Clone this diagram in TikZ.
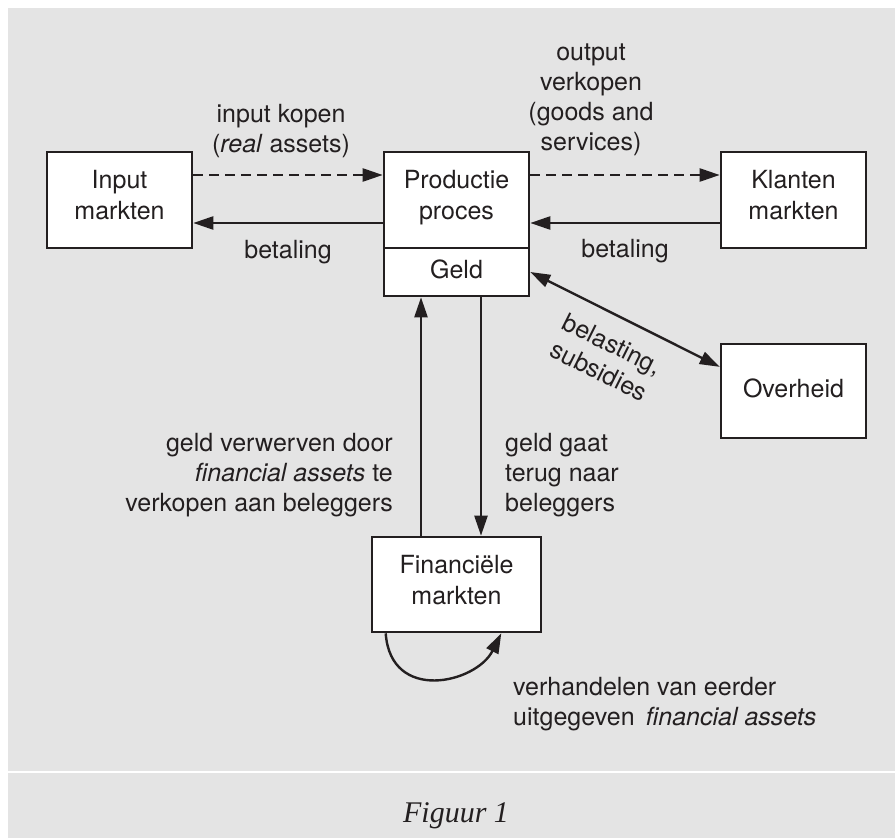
\documentclass[tikz,border=0pt]{standalone}
\usepackage{fontspec}
\setmainfont{TeX Gyre Heros}
\newfontfamily\capfont{Liberation Serif}
\usetikzlibrary{arrows.meta,calc}
\definecolor{ink}{HTML}{231F20}
\definecolor{panel}{HTML}{E4E4E4}
\newcommand\lblfont{\fontsize{25}{30}\selectfont}
\newcommand\boxfont{\fontsize{25}{31}\selectfont}

\begin{document}
\begin{tikzpicture}[x=1pt,y=-1pt,
  box/.style={draw=ink, fill=white, line width=2.6pt, inner sep=0pt,
    minimum width=145pt, minimum height=96pt, align=center,
    font=\boxfont, text=ink,
    execute at begin node=\strut, execute at end node=\strut},
  lbl/.style={font=\lblfont, text=ink, inner sep=0pt,
    execute at begin node=\strut, execute at end node=\strut},
  conn/.style={draw=ink, line width=2.4pt,
    -{Triangle[length=20pt,width=13pt]}},
  both/.style={draw=ink, line width=2.4pt,
    {Triangle[length=20pt,width=13pt]}-{Triangle[length=20pt,width=13pt]}},
  dsh/.style={dash pattern=on 10pt off 6pt}]

  % page, panel and caption rule
  \useasboundingbox (0,0) rectangle (895,838);
  \fill[white] (0,0) rectangle (895,838);
  \fill[panel] (8,8) rectangle (895,838);
  \draw[white, line width=1.6pt] (8,772) -- (895,772);

  % boxes
  \node[box] (inp) at (119.5,200) {Input\\markten};
  \node[box] (prod) at (456.5,200) {Productie\\proces};
  \node[box, minimum height=48pt] (geld) at (456.5,272) {Geld};
  \node[box] (kl) at (793.5,200) {Klanten\\markten};
  \node[box, minimum height=94pt] (ovh) at (793.5,391) {Overheid};
  \node[box, minimum width=169pt, minimum height=95pt] (fin) at (456.5,584.5) {Financiële\\markten};

  % flows between markets and production
  \draw[conn, dsh] ([yshift=25pt]inp.east) -- ([yshift=25pt]prod.west);
  \draw[conn] ([yshift=-23pt]prod.west) -- ([yshift=-23pt]inp.east);
  \draw[conn, dsh] ([yshift=25pt]prod.east) -- ([yshift=25pt]kl.west);
  \draw[conn] ([yshift=-23pt]kl.west) -- ([yshift=-23pt]prod.east);

  % money to and from the financial markets
  \draw[conn] ([xshift=-35.5pt]fin.north) -- ([xshift=-35.5pt]geld.south);
  \draw[conn] ([xshift=24.5pt]geld.south) -- ([xshift=24.5pt]fin.north);

  % government
  \coordinate (ovhin) at ($(ovh.north west)!0.25!(ovh.south west)$);
  \draw[both] (geld.east) -- node[lbl, pos=0.5, sloped, anchor=north,
    inner ysep=17pt, align=center] (tbel) {belasting,\\subsidies} (ovhin);

  % secondary market loop
  \coordinate (lpA) at ([xshift=15pt]fin.south west);
  \coordinate (lpB) at ([xshift=-41pt]fin.south east);
  \draw[conn] (lpA) .. controls +(5,70) and +(-25,50) .. (lpB);

  % labels
  \node[lbl, anchor=north, align=center] (tin) at (281,104) {input kopen\\(\textit{real} assets)};
  \node[lbl, anchor=north, align=center] (tout) at (591,44) {output\\verkopen\\(goods and\\services)};
  \node[lbl, anchor=north] (tbl) at (288,237) {betaling};
  \node[lbl, anchor=north] (tbr) at (625,236) {betaling};
  \node[lbl, anchor=north east, align=right] (tgv) at (393,433)
    {geld verwerven door\\\textit{financial assets} te\\verkopen aan beleggers};
  \node[lbl, anchor=north west, align=left] (tgg) at (505,433)
    {geld gaat\\terug naar\\beleggers};
  \node[lbl, anchor=north west, align=left] (tvh) at (513,677)
    {verhandelen van eerder\\uitgegeven\hspace{0.45em}\textit{financial assets}};

  % caption
  \node[font={\capfont\itshape\fontsize{30}{36}\selectfont}, text=ink,
    anchor=base, inner sep=0pt] (cap) at (456,822) {Figuur 1};
\end{tikzpicture}
\end{document}
